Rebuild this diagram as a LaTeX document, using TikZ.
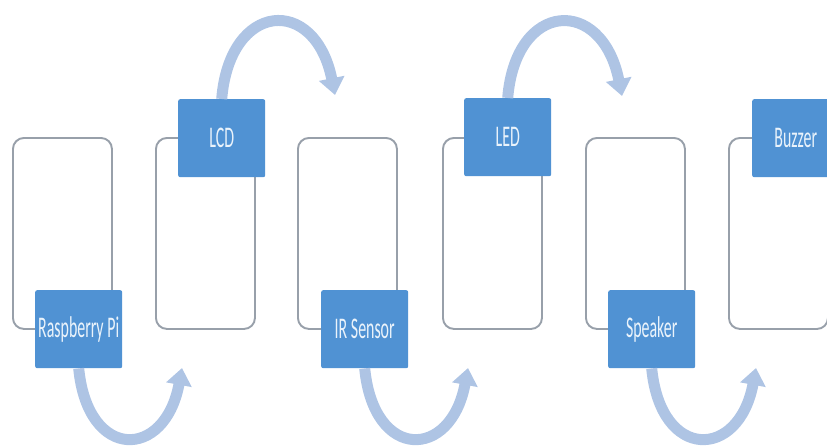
\documentclass[tikz,border=0pt]{standalone}
\usepackage{graphicx}
\usepackage{fontspec}
\setmainfont{Carlito}
\usetikzlibrary{arrows.meta}

\definecolor{labelblue}{HTML}{5092D3}
\definecolor{framegray}{HTML}{98A0AA}
\definecolor{flowblue}{HTML}{AEC4E4}
\definecolor{labeltext}{HTML}{EAF3FB}

\newcommand\squeezed[1]{\scalebox{0.53}[1]{#1}}

\tikzset{
  frame/.style={draw=framegray, line width=1.9pt, rounded corners=11pt, fill=white,
    minimum width=99pt, minimum height=191pt, anchor=north west, inner sep=0pt},
  tag/.style={fill=labelblue, rounded corners=2pt, minimum width=87pt,
    minimum height=78pt, anchor=north west, inner sep=0pt, text=labeltext,
    font=\fontsize{30}{32}\selectfont},
  flow/.style={draw=flowblue, line width=11pt,
    -{Triangle[width=25pt,length=17pt]}},
}

\begin{document}
\begin{tikzpicture}[x=1pt, y=-1pt]
  \useasboundingbox (0,0) rectangle (827,445);
  \clip (0,0) rectangle (827,445);

  % outlined picture frames
  \node[frame] (f1) at (12,137) {};
  \node[frame] (f2) at (155,137) {};
  \node[frame] (f3) at (297,137) {};
  \node[frame] (f4) at (442,137) {};
  \node[frame] (f5) at (585,137) {};
  \node[frame] (f6) at (728,137) {};

  % end points of the flow arrows
  \coordinate (b1) at (182,368);
  \coordinate (b2) at (468,368);
  \coordinate (b3) at (756,368);
  \coordinate (t1) at (335,95);
  \coordinate (t2) at (622,96);

  % component labels
  \node[tag] (rpi)  at (35,290)  {\squeezed{Raspberry Pi}};
  \node[tag] (lcd)  at (178,99)  {\squeezed{LCD}};
  \node[tag] (ir)   at (321,290) {\squeezed{IR Sensor}};
  \node[tag] (led)  at (464,98)  {\squeezed{LED}};
  \node[tag] (spk)  at (608,290) {\squeezed{Speaker}};
  \node[tag] (buz)  at (752,99)  {\squeezed{Buzzer}};

  % curved flow arrows
  \draw[flow] (rpi.south) .. controls +(9,93) and +(-17,92) .. (b1);
  \draw[flow] (ir.south)  .. controls +(9,93) and +(-17,92) .. (b2);
  \draw[flow] (spk.south) .. controls +(9,93) and +(-17,92) .. (b3);
  \draw[flow] (lcd.north) .. controls +(8,-98) and +(-20,-100) .. (t1);
  \draw[flow] (led.north) .. controls +(8,-98) and +(-20,-100) .. (t2);
\end{tikzpicture}
\end{document}
